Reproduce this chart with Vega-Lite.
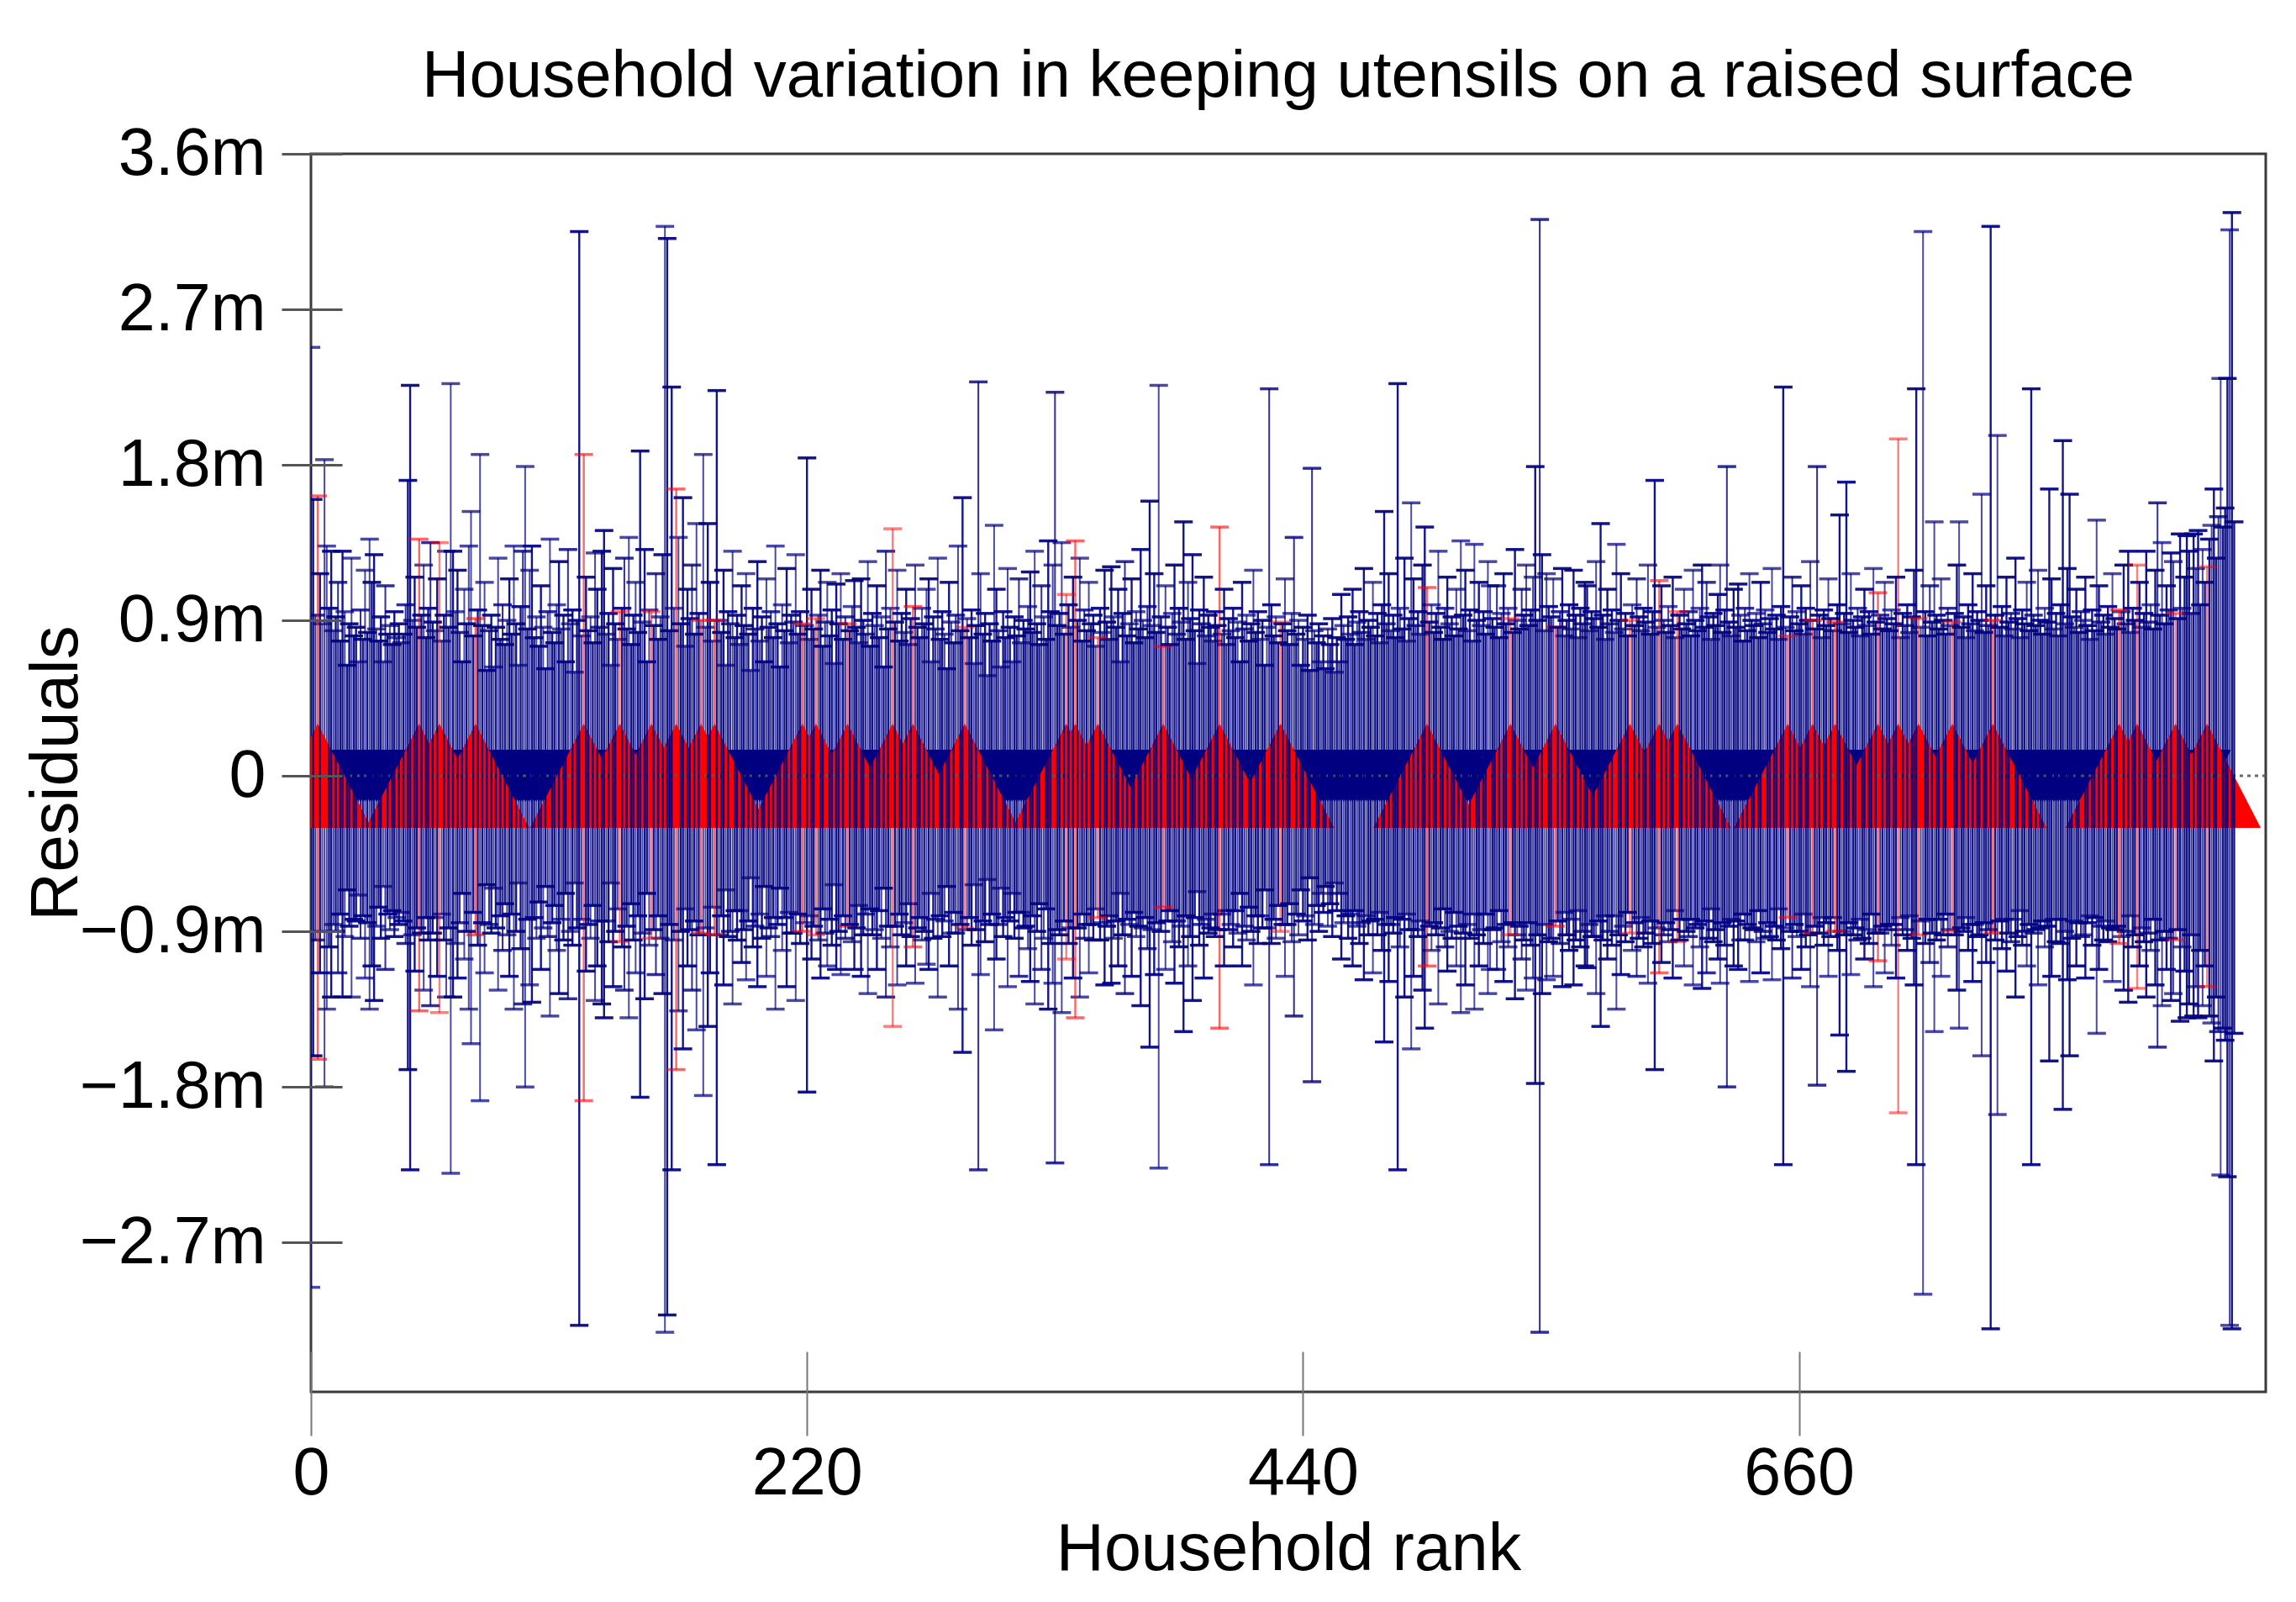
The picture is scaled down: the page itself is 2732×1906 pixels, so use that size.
{
  "$schema": "https://vega.github.io/schema/vega-lite/v6.json",
  "description": "Household residuals with error bars; red up-triangles and navy down-triangles mark each household.",
  "width": 2326,
  "height": 1473,
  "autosize": {"type": "none"},
  "padding": {"left": 370, "top": 183, "right": 36, "bottom": 250},
  "background": "white",
  "title": {
    "text": "Household variation in keeping utensils on a raised surface",
    "font": "Liberation Sans", "fontSize": 78, "fontWeight": "normal", "color": "#000",
    "anchor": "middle", "frame": "group", "baseline": "alphabetic", "offset": 23, "dy": 72, "dx": -12
  },
  "data": {"values": [
{"h":0,"hi":2.48,"lo":-2.96,"k":"l"},{"h":1,"hi":1.60,"lo":-1.62,"k":"n"},{"h":2,"hi":0.93,"lo":-0.95,"k":"m"},{"h":3,"hi":1.62,"lo":-1.64,"k":"r"},{"h":4,"hi":1.17,"lo":-1.14,"k":"n"},{"h":5,"hi":0.88,"lo":-0.90,"k":"l"},{"h":6,"hi":1.83,"lo":-1.80,"k":"l"},{"h":7,"hi":1.33,"lo":-1.35,"k":"l"},{"h":8,"hi":0.97,"lo":-0.99,"k":"n"},{"h":9,"hi":1.30,"lo":-1.28,"k":"n"},
{"h":10,"hi":0.84,"lo":-0.86,"k":"l"},{"h":11,"hi":0.92,"lo":-0.90,"k":"n"},{"h":12,"hi":1.12,"lo":-1.14,"k":"m"},{"h":13,"hi":0.78,"lo":-0.80,"k":"n"},{"h":14,"hi":1.30,"lo":-1.28,"k":"n"},{"h":15,"hi":0.95,"lo":-0.93,"k":"l"},{"h":16,"hi":0.64,"lo":-0.66,"k":"n"},{"h":17,"hi":0.88,"lo":-0.87,"k":"n"},{"h":18,"hi":1.26,"lo":-1.28,"k":"l"},{"h":19,"hi":0.81,"lo":-0.83,"k":"n"},
{"h":20,"hi":0.86,"lo":-0.84,"k":"n"},{"h":21,"hi":0.66,"lo":-0.69,"k":"l"},{"h":22,"hi":0.96,"lo":-0.94,"k":"m"},{"h":23,"hi":0.79,"lo":-0.81,"k":"n"},{"h":24,"hi":1.19,"lo":-1.17,"k":"l"},{"h":25,"hi":0.83,"lo":-0.85,"k":"n"},{"h":26,"hi":1.37,"lo":-1.35,"k":"l"},{"h":27,"hi":1.12,"lo":-1.10,"k":"n"},{"h":28,"hi":1.28,"lo":-1.30,"k":"n"},{"h":29,"hi":0.85,"lo":-0.87,"k":"l"},
{"h":30,"hi":0.78,"lo":-0.76,"k":"n"},{"h":31,"hi":0.92,"lo":-0.94,"k":"n"},{"h":32,"hi":0.66,"lo":-0.64,"k":"l"},{"h":33,"hi":1.10,"lo":-1.12,"k":"m"},{"h":34,"hi":0.82,"lo":-0.80,"k":"n"},{"h":35,"hi":0.87,"lo":-0.89,"k":"l"},{"h":36,"hi":0.76,"lo":-0.78,"k":"n"},{"h":37,"hi":0.95,"lo":-0.93,"k":"n"},{"h":38,"hi":0.80,"lo":-0.82,"k":"l"},{"h":39,"hi":0.88,"lo":-0.86,"k":"n"},
{"h":40,"hi":0.77,"lo":-0.79,"k":"l"},{"h":41,"hi":0.82,"lo":-0.84,"k":"n"},{"h":42,"hi":0.99,"lo":-0.97,"k":"m"},{"h":43,"hi":1.71,"lo":-1.70,"k":"n"},{"h":44,"hi":2.26,"lo":-2.28,"k":"n"},{"h":45,"hi":0.90,"lo":-0.92,"k":"l"},{"h":46,"hi":1.15,"lo":-1.13,"k":"n"},{"h":47,"hi":0.86,"lo":-0.88,"k":"n"},{"h":48,"hi":1.37,"lo":-1.36,"k":"r"},{"h":49,"hi":0.93,"lo":-0.91,"k":"n"},
{"h":50,"hi":1.22,"lo":-1.24,"k":"l"},{"h":51,"hi":0.80,"lo":-0.82,"k":"n"},{"h":52,"hi":0.97,"lo":-0.95,"k":"n"},{"h":53,"hi":1.35,"lo":-1.33,"k":"m"},{"h":54,"hi":0.89,"lo":-0.91,"k":"n"},{"h":55,"hi":0.84,"lo":-0.82,"k":"l"},{"h":56,"hi":1.14,"lo":-1.16,"k":"n"},{"h":57,"hi":1.35,"lo":-1.37,"k":"p"},{"h":58,"hi":0.78,"lo":-0.80,"k":"l"},{"h":59,"hi":0.93,"lo":-0.95,"k":"n"},
{"h":60,"hi":1.30,"lo":-1.28,"k":"l"},{"h":61,"hi":0.86,"lo":-0.88,"k":"n"},{"h":62,"hi":2.27,"lo":-2.30,"k":"l"},{"h":63,"hi":1.30,"lo":-1.28,"k":"n"},{"h":64,"hi":0.95,"lo":-0.97,"k":"l"},{"h":65,"hi":1.19,"lo":-1.17,"k":"n"},{"h":66,"hi":0.83,"lo":-0.85,"k":"m"},{"h":67,"hi":0.66,"lo":-0.68,"k":"n"},{"h":68,"hi":1.08,"lo":-1.06,"k":"l"},{"h":69,"hi":0.88,"lo":-0.90,"k":"n"},
{"h":70,"hi":1.33,"lo":-1.35,"k":"l"},{"h":71,"hi":1.53,"lo":-1.55,"k":"l"},{"h":72,"hi":0.81,"lo":-0.79,"k":"n"},{"h":73,"hi":0.91,"lo":-0.92,"k":"r"},{"h":74,"hi":0.96,"lo":-0.98,"k":"n"},{"h":75,"hi":1.86,"lo":-1.88,"k":"l"},{"h":76,"hi":0.87,"lo":-0.85,"k":"n"},{"h":77,"hi":1.12,"lo":-1.14,"k":"l"},{"h":78,"hi":0.61,"lo":-0.63,"k":"n"},{"h":79,"hi":0.84,"lo":-0.86,"k":"m"},
{"h":80,"hi":0.93,"lo":-0.91,"k":"n"},{"h":81,"hi":0.63,"lo":-0.65,"k":"l"},{"h":82,"hi":0.86,"lo":-0.88,"k":"n"},{"h":83,"hi":1.26,"lo":-1.24,"k":"l"},{"h":84,"hi":0.79,"lo":-0.81,"k":"n"},{"h":85,"hi":0.99,"lo":-1.01,"k":"m"},{"h":86,"hi":0.76,"lo":-0.74,"k":"n"},{"h":87,"hi":0.90,"lo":-0.92,"k":"l"},{"h":88,"hi":1.14,"lo":-1.16,"k":"n"},{"h":89,"hi":0.82,"lo":-0.80,"k":"n"},
{"h":90,"hi":1.33,"lo":-1.35,"k":"l"},{"h":91,"hi":0.88,"lo":-0.90,"k":"n"},{"h":92,"hi":0.64,"lo":-0.62,"k":"l"},{"h":93,"hi":0.98,"lo":-1.00,"k":"n"},{"h":94,"hi":1.30,"lo":-1.32,"k":"m"},{"h":95,"hi":1.79,"lo":-1.80,"k":"l"},{"h":96,"hi":0.85,"lo":-0.83,"k":"n"},{"h":97,"hi":1.19,"lo":-1.21,"k":"l"},{"h":98,"hi":1.33,"lo":-1.31,"k":"n"},{"h":99,"hi":0.80,"lo":-0.82,"k":"n"},
{"h":100,"hi":0.92,"lo":-0.94,"k":"l"},{"h":101,"hi":0.75,"lo":-0.73,"k":"n"},{"h":102,"hi":1.10,"lo":-1.12,"k":"n"},{"h":103,"hi":0.86,"lo":-0.88,"k":"l"},{"h":104,"hi":0.62,"lo":-0.64,"k":"n"},{"h":105,"hi":0.95,"lo":-0.93,"k":"m"},{"h":106,"hi":1.37,"lo":-1.39,"k":"l"},{"h":107,"hi":0.83,"lo":-0.85,"k":"n"},{"h":108,"hi":0.77,"lo":-0.75,"k":"n"},{"h":109,"hi":0.99,"lo":-1.01,"k":"l"},
{"h":110,"hi":1.24,"lo":-1.26,"k":"n"},{"h":111,"hi":0.85,"lo":-0.83,"k":"l"},{"h":112,"hi":0.93,"lo":-0.95,"k":"n"},{"h":113,"hi":0.66,"lo":-0.68,"k":"n"},{"h":114,"hi":1.31,"lo":-1.29,"k":"m"},{"h":115,"hi":0.88,"lo":-0.90,"k":"l"},{"h":116,"hi":0.96,"lo":-0.98,"k":"n"},{"h":117,"hi":0.60,"lo":-0.62,"k":"l"},{"h":118,"hi":0.90,"lo":-0.88,"k":"n"},{"h":119,"hi":3.15,"lo":-3.18,"k":"n"},
{"h":120,"hi":0.81,"lo":-0.83,"k":"l"},{"h":121,"hi":1.86,"lo":-1.88,"k":"r"},{"h":122,"hi":1.15,"lo":-1.13,"k":"n"},{"h":123,"hi":0.84,"lo":-0.86,"k":"n"},{"h":124,"hi":0.92,"lo":-0.94,"k":"l"},{"h":125,"hi":0.77,"lo":-0.75,"k":"n"},{"h":126,"hi":1.29,"lo":-1.30,"k":"l"},{"h":127,"hi":1.08,"lo":-1.10,"k":"n"},{"h":128,"hi":0.86,"lo":-0.84,"k":"m"},{"h":129,"hi":1.30,"lo":-1.32,"k":"n"},
{"h":130,"hi":1.42,"lo":-1.40,"k":"n"},{"h":131,"hi":0.82,"lo":-0.84,"k":"l"},{"h":132,"hi":0.94,"lo":-0.96,"k":"n"},{"h":133,"hi":0.64,"lo":-0.62,"k":"l"},{"h":134,"hi":1.20,"lo":-1.22,"k":"n"},{"h":135,"hi":0.88,"lo":-0.90,"k":"n"},{"h":136,"hi":0.79,"lo":-0.77,"k":"l"},{"h":137,"hi":0.95,"lo":-0.96,"k":"p"},{"h":138,"hi":0.97,"lo":-0.99,"k":"n"},{"h":139,"hi":1.26,"lo":-1.24,"k":"m"},
{"h":140,"hi":0.85,"lo":-0.87,"k":"n"},{"h":141,"hi":1.38,"lo":-1.40,"k":"l"},{"h":142,"hi":0.76,"lo":-0.74,"k":"n"},{"h":143,"hi":0.93,"lo":-0.95,"k":"n"},{"h":144,"hi":1.12,"lo":-1.14,"k":"l"},{"h":145,"hi":0.83,"lo":-0.81,"k":"n"},{"h":146,"hi":1.88,"lo":-1.86,"k":"n"},{"h":147,"hi":0.89,"lo":-0.91,"k":"l"},{"h":148,"hi":1.31,"lo":-1.29,"k":"n"},{"h":149,"hi":0.66,"lo":-0.68,"k":"n"},
{"h":150,"hi":0.96,"lo":-0.98,"k":"l"},{"h":151,"hi":0.95,"lo":-0.94,"k":"p"},{"h":152,"hi":0.87,"lo":-0.89,"k":"n"},{"h":153,"hi":1.17,"lo":-1.15,"k":"m"},{"h":154,"hi":0.79,"lo":-0.81,"k":"n"},{"h":155,"hi":0.92,"lo":-0.94,"k":"l"},{"h":156,"hi":1.28,"lo":-1.26,"k":"n"},{"h":157,"hi":3.18,"lo":-3.22,"k":"l"},{"h":158,"hi":3.11,"lo":-3.12,"k":"n"},{"h":159,"hi":0.84,"lo":-0.86,"k":"n"},
{"h":160,"hi":2.25,"lo":-2.28,"k":"n"},{"h":161,"hi":0.97,"lo":-0.95,"k":"l"},{"h":162,"hi":1.66,"lo":-1.70,"k":"r"},{"h":163,"hi":1.38,"lo":-1.36,"k":"l"},{"h":164,"hi":0.88,"lo":-0.90,"k":"n"},{"h":165,"hi":1.61,"lo":-1.58,"k":"n"},{"h":166,"hi":0.75,"lo":-0.77,"k":"l"},{"h":167,"hi":1.08,"lo":-1.10,"k":"n"},{"h":168,"hi":0.91,"lo":-0.89,"k":"n"},{"h":169,"hi":1.22,"lo":-1.24,"k":"m"},
{"h":170,"hi":0.82,"lo":-0.84,"k":"n"},{"h":171,"hi":1.46,"lo":-1.47,"k":"l"},{"h":172,"hi":0.94,"lo":-0.92,"k":"n"},{"h":173,"hi":0.90,"lo":-0.91,"k":"r"},{"h":174,"hi":1.86,"lo":-1.85,"k":"l"},{"h":175,"hi":0.86,"lo":-0.88,"k":"l"},{"h":176,"hi":1.46,"lo":-1.45,"k":"n"},{"h":177,"hi":1.12,"lo":-1.14,"k":"n"},{"h":178,"hi":0.78,"lo":-0.76,"k":"l"},{"h":179,"hi":0.90,"lo":-0.92,"k":"r"},
{"h":180,"hi":2.23,"lo":-2.25,"k":"n"},{"h":181,"hi":0.90,"lo":-0.92,"k":"l"},{"h":182,"hi":0.83,"lo":-0.81,"k":"n"},{"h":183,"hi":1.19,"lo":-1.21,"k":"n"},{"h":184,"hi":0.64,"lo":-0.66,"k":"l"},{"h":185,"hi":0.95,"lo":-0.93,"k":"n"},{"h":186,"hi":0.88,"lo":-0.90,"k":"m"},{"h":187,"hi":1.30,"lo":-1.32,"k":"l"},{"h":188,"hi":0.80,"lo":-0.78,"k":"n"},{"h":189,"hi":0.93,"lo":-0.95,"k":"n"},
{"h":190,"hi":0.76,"lo":-0.78,"k":"l"},{"h":191,"hi":1.10,"lo":-1.08,"k":"n"},{"h":192,"hi":0.87,"lo":-0.89,"k":"n"},{"h":193,"hi":1.17,"lo":-1.18,"k":"l"},{"h":194,"hi":0.82,"lo":-0.84,"k":"n"},{"h":195,"hi":0.61,"lo":-0.59,"k":"l"},{"h":196,"hi":0.97,"lo":-0.99,"k":"n"},{"h":197,"hi":0.85,"lo":-0.87,"k":"m"},{"h":198,"hi":1.24,"lo":-1.22,"k":"n"},{"h":199,"hi":0.78,"lo":-0.80,"k":"l"},
{"h":200,"hi":0.92,"lo":-0.94,"k":"n"},{"h":201,"hi":0.66,"lo":-0.64,"k":"n"},{"h":202,"hi":1.14,"lo":-1.16,"k":"l"},{"h":203,"hi":0.86,"lo":-0.88,"k":"n"},{"h":204,"hi":0.95,"lo":-0.93,"k":"m"},{"h":205,"hi":0.80,"lo":-0.82,"k":"n"},{"h":206,"hi":1.33,"lo":-1.35,"k":"l"},{"h":207,"hi":0.88,"lo":-0.86,"k":"n"},{"h":208,"hi":0.63,"lo":-0.65,"k":"n"},{"h":209,"hi":0.99,"lo":-1.01,"k":"l"},
{"h":210,"hi":0.84,"lo":-0.82,"k":"n"},{"h":211,"hi":1.20,"lo":-1.22,"k":"n"},{"h":212,"hi":0.77,"lo":-0.79,"k":"l"},{"h":213,"hi":0.93,"lo":-0.91,"k":"n"},{"h":214,"hi":0.89,"lo":-0.91,"k":"m"},{"h":215,"hi":1.28,"lo":-1.30,"k":"l"},{"h":216,"hi":0.82,"lo":-0.80,"k":"n"},{"h":217,"hi":0.95,"lo":-0.97,"k":"n"},{"h":218,"hi":0.88,"lo":-0.90,"k":"r"},{"h":219,"hi":0.87,"lo":-0.85,"k":"l"},
{"h":220,"hi":1.84,"lo":-1.83,"k":"n"},{"h":221,"hi":0.79,"lo":-0.81,"k":"l"},{"h":222,"hi":1.08,"lo":-1.06,"k":"n"},{"h":223,"hi":0.85,"lo":-0.87,"k":"n"},{"h":224,"hi":0.91,"lo":-0.92,"k":"p"},{"h":225,"hi":0.93,"lo":-0.95,"k":"l"},{"h":226,"hi":1.19,"lo":-1.17,"k":"n"},{"h":227,"hi":0.75,"lo":-0.77,"k":"n"},{"h":228,"hi":0.89,"lo":-0.91,"k":"m"},{"h":229,"hi":1.12,"lo":-1.10,"k":"l"},
{"h":230,"hi":0.81,"lo":-0.83,"k":"n"},{"h":231,"hi":0.96,"lo":-0.98,"k":"n"},{"h":232,"hi":0.65,"lo":-0.63,"k":"l"},{"h":233,"hi":1.11,"lo":-1.12,"k":"n"},{"h":234,"hi":0.88,"lo":-0.90,"k":"n"},{"h":235,"hi":1.17,"lo":-1.15,"k":"l"},{"h":236,"hi":0.79,"lo":-0.81,"k":"n"},{"h":237,"hi":0.92,"lo":-0.94,"k":"m"},{"h":238,"hi":0.88,"lo":-0.87,"k":"r"},{"h":239,"hi":0.84,"lo":-0.86,"k":"n"},
{"h":240,"hi":0.98,"lo":-0.96,"k":"l"},{"h":241,"hi":1.13,"lo":-1.12,"k":"n"},{"h":242,"hi":0.86,"lo":-0.88,"k":"n"},{"h":243,"hi":0.77,"lo":-0.75,"k":"l"},{"h":244,"hi":1.14,"lo":-1.16,"k":"n"},{"h":245,"hi":0.90,"lo":-0.92,"k":"n"},{"h":246,"hi":0.82,"lo":-0.80,"k":"m"},{"h":247,"hi":1.24,"lo":-1.26,"k":"l"},{"h":248,"hi":0.75,"lo":-0.77,"k":"n"},{"h":249,"hi":0.94,"lo":-0.92,"k":"n"},
{"h":250,"hi":0.87,"lo":-0.89,"k":"l"},{"h":251,"hi":1.10,"lo":-1.12,"k":"n"},{"h":252,"hi":0.80,"lo":-0.78,"k":"n"},{"h":253,"hi":0.92,"lo":-0.94,"k":"l"},{"h":254,"hi":0.63,"lo":-0.65,"k":"n"},{"h":255,"hi":1.30,"lo":-1.28,"k":"m"},{"h":256,"hi":0.85,"lo":-0.87,"k":"n"},{"h":257,"hi":0.97,"lo":-0.99,"k":"l"},{"h":258,"hi":1.43,"lo":-1.45,"k":"p"},{"h":259,"hi":0.89,"lo":-0.87,"k":"n"},
{"h":260,"hi":1.19,"lo":-1.21,"k":"l"},{"h":261,"hi":0.78,"lo":-0.80,"k":"n"},{"h":262,"hi":0.94,"lo":-0.92,"k":"n"},{"h":263,"hi":0.83,"lo":-0.85,"k":"l"},{"h":264,"hi":1.08,"lo":-1.10,"k":"n"},{"h":265,"hi":0.76,"lo":-0.74,"k":"m"},{"h":266,"hi":0.91,"lo":-0.93,"k":"n"},{"h":267,"hi":0.98,"lo":-0.99,"k":"r"},{"h":268,"hi":1.22,"lo":-1.20,"k":"l"},{"h":269,"hi":0.86,"lo":-0.88,"k":"n"},
{"h":270,"hi":0.80,"lo":-0.82,"k":"n"},{"h":271,"hi":0.97,"lo":-0.95,"k":"l"},{"h":272,"hi":0.88,"lo":-0.90,"k":"n"},{"h":273,"hi":1.08,"lo":-1.09,"k":"l"},{"h":274,"hi":1.14,"lo":-1.12,"k":"n"},{"h":275,"hi":0.66,"lo":-0.68,"k":"l"},{"h":276,"hi":0.92,"lo":-0.94,"k":"n"},{"h":277,"hi":0.85,"lo":-0.83,"k":"m"},{"h":278,"hi":1.26,"lo":-1.28,"k":"l"},{"h":279,"hi":0.79,"lo":-0.81,"k":"n"},
{"h":280,"hi":0.95,"lo":-0.93,"k":"n"},{"h":281,"hi":0.82,"lo":-0.84,"k":"l"},{"h":282,"hi":0.62,"lo":-0.64,"k":"n"},{"h":283,"hi":1.12,"lo":-1.10,"k":"n"},{"h":284,"hi":0.89,"lo":-0.91,"k":"l"},{"h":285,"hi":0.77,"lo":-0.79,"k":"n"},{"h":286,"hi":0.93,"lo":-0.91,"k":"m"},{"h":287,"hi":1.33,"lo":-1.35,"k":"l"},{"h":288,"hi":0.84,"lo":-0.86,"k":"n"},{"h":289,"hi":1.61,"lo":-1.60,"k":"n"},
{"h":290,"hi":0.86,"lo":-0.88,"k":"p"},{"h":291,"hi":0.91,"lo":-0.89,"k":"l"},{"h":292,"hi":0.80,"lo":-0.82,"k":"n"},{"h":293,"hi":0.96,"lo":-0.98,"k":"n"},{"h":294,"hi":0.65,"lo":-0.63,"k":"l"},{"h":295,"hi":0.87,"lo":-0.89,"k":"n"},{"h":296,"hi":2.28,"lo":-2.28,"k":"m"},{"h":297,"hi":1.17,"lo":-1.15,"k":"l"},{"h":298,"hi":0.82,"lo":-0.84,"k":"n"},{"h":299,"hi":0.94,"lo":-0.96,"k":"n"},
{"h":300,"hi":0.58,"lo":-0.60,"k":"l"},{"h":301,"hi":0.88,"lo":-0.86,"k":"n"},{"h":302,"hi":0.78,"lo":-0.80,"k":"n"},{"h":303,"hi":1.45,"lo":-1.47,"k":"l"},{"h":304,"hi":1.08,"lo":-1.06,"k":"n"},{"h":305,"hi":0.84,"lo":-0.86,"k":"m"},{"h":306,"hi":0.63,"lo":-0.65,"k":"l"},{"h":307,"hi":0.95,"lo":-0.93,"k":"n"},{"h":308,"hi":0.80,"lo":-0.82,"k":"n"},{"h":309,"hi":1.20,"lo":-1.22,"k":"l"},
{"h":310,"hi":0.86,"lo":-0.84,"k":"n"},{"h":311,"hi":0.66,"lo":-0.68,"k":"l"},{"h":312,"hi":0.92,"lo":-0.94,"k":"n"},{"h":313,"hi":0.81,"lo":-0.79,"k":"n"},{"h":314,"hi":1.14,"lo":-1.16,"k":"m"},{"h":315,"hi":0.77,"lo":-0.79,"k":"l"},{"h":316,"hi":0.90,"lo":-0.88,"k":"n"},{"h":317,"hi":0.85,"lo":-0.87,"k":"n"},{"h":318,"hi":0.98,"lo":-1.00,"k":"l"},{"h":319,"hi":1.18,"lo":-1.19,"k":"n"},
{"h":320,"hi":0.83,"lo":-0.81,"k":"n"},{"h":321,"hi":1.30,"lo":-1.32,"k":"l"},{"h":322,"hi":0.88,"lo":-0.90,"k":"n"},{"h":323,"hi":0.76,"lo":-0.74,"k":"n"},{"h":324,"hi":1.10,"lo":-1.12,"k":"m"},{"h":325,"hi":0.92,"lo":-0.94,"k":"l"},{"h":326,"hi":0.79,"lo":-0.77,"k":"n"},{"h":327,"hi":1.36,"lo":-1.35,"k":"n"},{"h":328,"hi":0.95,"lo":-0.97,"k":"n"},{"h":329,"hi":1.22,"lo":-1.20,"k":"l"},
{"h":330,"hi":2.22,"lo":-2.24,"k":"m"},{"h":331,"hi":0.87,"lo":-0.89,"k":"n"},{"h":332,"hi":0.94,"lo":-0.92,"k":"n"},{"h":333,"hi":1.35,"lo":-1.37,"k":"l"},{"h":334,"hi":0.82,"lo":-0.84,"k":"n"},{"h":335,"hi":1.05,"lo":-1.06,"k":"p"},{"h":336,"hi":0.99,"lo":-0.97,"k":"n"},{"h":337,"hi":0.86,"lo":-0.88,"k":"l"},{"h":338,"hi":1.15,"lo":-1.17,"k":"n"},{"h":339,"hi":1.36,"lo":-1.40,"k":"r"},
{"h":340,"hi":0.90,"lo":-0.88,"k":"n"},{"h":341,"hi":1.26,"lo":-1.28,"k":"l"},{"h":342,"hi":0.78,"lo":-0.80,"k":"n"},{"h":343,"hi":0.96,"lo":-0.94,"k":"m"},{"h":344,"hi":0.84,"lo":-0.86,"k":"n"},{"h":345,"hi":1.12,"lo":-1.14,"k":"l"},{"h":346,"hi":0.88,"lo":-0.86,"k":"n"},{"h":347,"hi":0.93,"lo":-0.95,"k":"n"},{"h":348,"hi":0.75,"lo":-0.77,"k":"l"},{"h":349,"hi":0.80,"lo":-0.82,"k":"p"},
{"h":350,"hi":0.97,"lo":-0.95,"k":"n"},{"h":351,"hi":0.83,"lo":-0.85,"k":"l"},{"h":352,"hi":1.19,"lo":-1.21,"k":"n"},{"h":353,"hi":0.89,"lo":-0.87,"k":"n"},{"h":354,"hi":0.79,"lo":-0.81,"k":"m"},{"h":355,"hi":1.21,"lo":-1.20,"k":"n"},{"h":356,"hi":0.92,"lo":-0.94,"k":"l"},{"h":357,"hi":0.86,"lo":-0.84,"k":"n"},{"h":358,"hi":1.08,"lo":-1.10,"k":"n"},{"h":359,"hi":0.66,"lo":-0.68,"k":"l"},
{"h":360,"hi":0.94,"lo":-0.92,"k":"n"},{"h":361,"hi":1.24,"lo":-1.26,"k":"m"},{"h":362,"hi":0.81,"lo":-0.83,"k":"n"},{"h":363,"hi":0.88,"lo":-0.86,"k":"l"},{"h":364,"hi":1.14,"lo":-1.16,"k":"n"},{"h":365,"hi":0.77,"lo":-0.79,"k":"n"},{"h":366,"hi":0.95,"lo":-0.93,"k":"l"},{"h":367,"hi":0.85,"lo":-0.87,"k":"n"},{"h":368,"hi":1.31,"lo":-1.33,"k":"n"},{"h":369,"hi":0.90,"lo":-0.88,"k":"l"},
{"h":370,"hi":0.80,"lo":-0.82,"k":"n"},{"h":371,"hi":0.98,"lo":-1.00,"k":"m"},{"h":372,"hi":1.59,"lo":-1.57,"k":"n"},{"h":373,"hi":0.87,"lo":-0.89,"k":"l"},{"h":374,"hi":1.17,"lo":-1.15,"k":"n"},{"h":375,"hi":0.83,"lo":-0.85,"k":"n"},{"h":376,"hi":2.26,"lo":-2.27,"k":"l"},{"h":377,"hi":0.92,"lo":-0.90,"k":"n"},{"h":378,"hi":0.75,"lo":-0.76,"k":"r"},{"h":379,"hi":1.10,"lo":-1.12,"k":"l"},
{"h":380,"hi":0.86,"lo":-0.84,"k":"n"},{"h":381,"hi":0.76,"lo":-0.78,"k":"n"},{"h":382,"hi":0.94,"lo":-0.96,"k":"l"},{"h":383,"hi":1.22,"lo":-1.20,"k":"n"},{"h":384,"hi":0.82,"lo":-0.84,"k":"m"},{"h":385,"hi":0.97,"lo":-0.99,"k":"n"},{"h":386,"hi":0.89,"lo":-0.87,"k":"l"},{"h":387,"hi":1.47,"lo":-1.48,"k":"n"},{"h":388,"hi":0.79,"lo":-0.81,"k":"n"},{"h":389,"hi":1.12,"lo":-1.10,"k":"l"},
{"h":390,"hi":0.91,"lo":-0.93,"k":"n"},{"h":391,"hi":1.28,"lo":-1.30,"k":"n"},{"h":392,"hi":0.84,"lo":-0.82,"k":"n"},{"h":393,"hi":0.65,"lo":-0.67,"k":"l"},{"h":394,"hi":0.96,"lo":-0.98,"k":"n"},{"h":395,"hi":0.88,"lo":-0.86,"k":"m"},{"h":396,"hi":1.15,"lo":-1.17,"k":"n"},{"h":397,"hi":0.81,"lo":-0.83,"k":"l"},{"h":398,"hi":0.93,"lo":-0.91,"k":"n"},{"h":399,"hi":0.86,"lo":-0.88,"k":"n"},
{"h":400,"hi":0.78,"lo":-0.80,"k":"l"},{"h":401,"hi":0.95,"lo":-0.93,"k":"n"},{"h":402,"hi":0.87,"lo":-0.89,"k":"n"},{"h":403,"hi":1.44,"lo":-1.46,"k":"r"},{"h":404,"hi":0.82,"lo":-0.80,"k":"l"},{"h":405,"hi":1.08,"lo":-1.10,"k":"n"},{"h":406,"hi":0.76,"lo":-0.78,"k":"m"},{"h":407,"hi":0.91,"lo":-0.89,"k":"n"},{"h":408,"hi":0.84,"lo":-0.86,"k":"l"},{"h":409,"hi":0.97,"lo":-0.99,"k":"n"},
{"h":410,"hi":0.80,"lo":-0.78,"k":"n"},{"h":411,"hi":0.89,"lo":-0.91,"k":"l"},{"h":412,"hi":0.66,"lo":-0.68,"k":"n"},{"h":413,"hi":1.12,"lo":-1.10,"k":"n"},{"h":414,"hi":0.85,"lo":-0.87,"k":"m"},{"h":415,"hi":0.93,"lo":-0.95,"k":"l"},{"h":416,"hi":0.78,"lo":-0.76,"k":"n"},{"h":417,"hi":0.88,"lo":-0.90,"k":"n"},{"h":418,"hi":1.19,"lo":-1.21,"k":"l"},{"h":419,"hi":0.83,"lo":-0.81,"k":"n"},
{"h":420,"hi":0.95,"lo":-0.97,"k":"n"},{"h":421,"hi":0.79,"lo":-0.81,"k":"l"},{"h":422,"hi":0.90,"lo":-0.88,"k":"n"},{"h":423,"hi":0.64,"lo":-0.66,"k":"n"},{"h":424,"hi":0.86,"lo":-0.88,"k":"l"},{"h":425,"hi":2.24,"lo":-2.25,"k":"m"},{"h":426,"hi":0.99,"lo":-0.97,"k":"n"},{"h":427,"hi":0.81,"lo":-0.83,"k":"n"},{"h":428,"hi":0.92,"lo":-0.94,"k":"l"},{"h":429,"hi":0.77,"lo":-0.75,"k":"n"},
{"h":430,"hi":0.89,"lo":-0.90,"k":"p"},{"h":431,"hi":0.88,"lo":-0.86,"k":"n"},{"h":432,"hi":1.14,"lo":-1.16,"k":"l"},{"h":433,"hi":0.84,"lo":-0.86,"k":"n"},{"h":434,"hi":0.76,"lo":-0.74,"k":"n"},{"h":435,"hi":0.94,"lo":-0.96,"k":"l"},{"h":436,"hi":1.38,"lo":-1.39,"k":"m"},{"h":437,"hi":0.82,"lo":-0.80,"k":"n"},{"h":438,"hi":0.90,"lo":-0.92,"k":"l"},{"h":439,"hi":0.64,"lo":-0.66,"k":"n"},
{"h":440,"hi":0.86,"lo":-0.84,"k":"n"},{"h":441,"hi":0.79,"lo":-0.81,"k":"l"},{"h":442,"hi":0.93,"lo":-0.95,"k":"n"},{"h":443,"hi":0.61,"lo":-0.59,"k":"n"},{"h":444,"hi":1.78,"lo":-1.77,"k":"m"},{"h":445,"hi":0.84,"lo":-0.86,"k":"l"},{"h":446,"hi":0.77,"lo":-0.75,"k":"n"},{"h":447,"hi":0.88,"lo":-0.90,"k":"n"},{"h":448,"hi":0.66,"lo":-0.68,"k":"l"},{"h":449,"hi":0.81,"lo":-0.79,"k":"n"},
{"h":450,"hi":0.62,"lo":-0.64,"k":"n"},{"h":451,"hi":0.85,"lo":-0.87,"k":"l"},{"h":452,"hi":0.76,"lo":-0.74,"k":"n"},{"h":453,"hi":0.91,"lo":-0.93,"k":"n"},{"h":454,"hi":0.60,"lo":-0.62,"k":"l"},{"h":455,"hi":0.80,"lo":-0.78,"k":"n"},{"h":456,"hi":0.66,"lo":-0.68,"k":"m"},{"h":457,"hi":1.05,"lo":-1.06,"k":"n"},{"h":458,"hi":0.87,"lo":-0.85,"k":"l"},{"h":459,"hi":0.79,"lo":-0.81,"k":"n"},
{"h":460,"hi":0.92,"lo":-0.94,"k":"n"},{"h":461,"hi":0.82,"lo":-0.80,"k":"l"},{"h":462,"hi":1.08,"lo":-1.10,"k":"n"},{"h":463,"hi":0.76,"lo":-0.78,"k":"n"},{"h":464,"hi":0.89,"lo":-0.87,"k":"l"},{"h":465,"hi":0.95,"lo":-0.97,"k":"n"},{"h":466,"hi":0.83,"lo":-0.85,"k":"m"},{"h":467,"hi":1.20,"lo":-1.18,"k":"n"},{"h":468,"hi":0.79,"lo":-0.81,"k":"l"},{"h":469,"hi":0.90,"lo":-0.92,"k":"n"},
{"h":470,"hi":0.86,"lo":-0.84,"k":"n"},{"h":471,"hi":1.12,"lo":-1.14,"k":"l"},{"h":472,"hi":0.81,"lo":-0.83,"k":"n"},{"h":473,"hi":0.94,"lo":-0.92,"k":"n"},{"h":474,"hi":0.77,"lo":-0.79,"k":"l"},{"h":475,"hi":0.99,"lo":-1.01,"k":"n"},{"h":476,"hi":1.53,"lo":-1.54,"k":"n"},{"h":477,"hi":0.88,"lo":-0.86,"k":"m"},{"h":478,"hi":1.17,"lo":-1.19,"k":"n"},{"h":479,"hi":0.84,"lo":-0.86,"k":"l"},
{"h":480,"hi":0.93,"lo":-0.91,"k":"n"},{"h":481,"hi":0.80,"lo":-0.82,"k":"n"},{"h":482,"hi":2.27,"lo":-2.28,"k":"n"},{"h":483,"hi":0.97,"lo":-0.99,"k":"l"},{"h":484,"hi":0.85,"lo":-0.83,"k":"n"},{"h":485,"hi":1.26,"lo":-1.28,"k":"n"},{"h":486,"hi":0.78,"lo":-0.80,"k":"l"},{"h":487,"hi":0.91,"lo":-0.89,"k":"n"},{"h":488,"hi":1.58,"lo":-1.58,"k":"l"},{"h":489,"hi":1.14,"lo":-1.16,"k":"n"},
{"h":490,"hi":0.87,"lo":-0.89,"k":"m"},{"h":491,"hi":0.95,"lo":-0.93,"k":"n"},{"h":492,"hi":0.82,"lo":-0.84,"k":"l"},{"h":493,"hi":1.22,"lo":-1.24,"k":"n"},{"h":494,"hi":1.44,"lo":-1.46,"k":"n"},{"h":495,"hi":1.09,"lo":-1.10,"k":"r"},{"h":496,"hi":0.89,"lo":-0.87,"k":"n"},{"h":497,"hi":0.99,"lo":-1.01,"k":"l"},{"h":498,"hi":0.83,"lo":-0.85,"k":"n"},{"h":499,"hi":0.94,"lo":-0.92,"k":"n"},
{"h":500,"hi":1.30,"lo":-1.32,"k":"l"},{"h":501,"hi":0.86,"lo":-0.88,"k":"n"},{"h":502,"hi":0.79,"lo":-0.77,"k":"n"},{"h":503,"hi":0.97,"lo":-0.99,"k":"m"},{"h":504,"hi":1.15,"lo":-1.13,"k":"n"},{"h":505,"hi":0.88,"lo":-0.90,"k":"l"},{"h":506,"hi":0.92,"lo":-0.94,"k":"n"},{"h":507,"hi":0.81,"lo":-0.79,"k":"n"},{"h":508,"hi":1.08,"lo":-1.10,"k":"l"},{"h":509,"hi":0.85,"lo":-0.87,"k":"n"},
{"h":510,"hi":1.36,"lo":-1.37,"k":"l"},{"h":511,"hi":0.93,"lo":-0.91,"k":"n"},{"h":512,"hi":1.19,"lo":-1.21,"k":"n"},{"h":513,"hi":0.84,"lo":-0.86,"k":"l"},{"h":514,"hi":0.96,"lo":-0.94,"k":"n"},{"h":515,"hi":0.78,"lo":-0.80,"k":"m"},{"h":516,"hi":1.34,"lo":-1.35,"k":"l"},{"h":517,"hi":0.90,"lo":-0.92,"k":"n"},{"h":518,"hi":1.12,"lo":-1.10,"k":"n"},{"h":519,"hi":0.87,"lo":-0.89,"k":"l"},
{"h":520,"hi":0.95,"lo":-0.97,"k":"n"},{"h":521,"hi":0.82,"lo":-0.80,"k":"n"},{"h":522,"hi":1.24,"lo":-1.26,"k":"l"},{"h":523,"hi":1.10,"lo":-1.12,"k":"l"},{"h":524,"hi":0.91,"lo":-0.89,"k":"n"},{"h":525,"hi":0.86,"lo":-0.88,"k":"n"},{"h":526,"hi":1.10,"lo":-1.12,"k":"m"},{"h":527,"hi":0.80,"lo":-0.78,"k":"n"},{"h":528,"hi":0.94,"lo":-0.96,"k":"l"},{"h":529,"hi":1.17,"lo":-1.19,"k":"n"},
{"h":530,"hi":0.88,"lo":-0.86,"k":"n"},{"h":531,"hi":0.97,"lo":-0.99,"k":"l"},{"h":532,"hi":0.91,"lo":-0.92,"k":"p"},{"h":533,"hi":0.83,"lo":-0.85,"k":"n"},{"h":534,"hi":1.31,"lo":-1.29,"k":"n"},{"h":535,"hi":0.90,"lo":-0.92,"k":"l"},{"h":536,"hi":0.85,"lo":-0.87,"k":"n"},{"h":537,"hi":1.08,"lo":-1.06,"k":"m"},{"h":538,"hi":0.93,"lo":-0.95,"k":"n"},{"h":539,"hi":1.22,"lo":-1.24,"k":"l"},
{"h":540,"hi":0.87,"lo":-0.85,"k":"n"},{"h":541,"hi":0.96,"lo":-0.98,"k":"n"},{"h":542,"hi":1.15,"lo":-1.17,"k":"l"},{"h":543,"hi":1.79,"lo":-1.78,"k":"n"},{"h":544,"hi":0.90,"lo":-0.92,"k":"n"},{"h":545,"hi":3.22,"lo":-3.22,"k":"m"},{"h":546,"hi":1.28,"lo":-1.26,"k":"n"},{"h":547,"hi":0.84,"lo":-0.86,"k":"l"},{"h":548,"hi":1.17,"lo":-1.18,"k":"l"},{"h":549,"hi":0.98,"lo":-0.96,"k":"n"},
{"h":550,"hi":0.92,"lo":-0.94,"k":"n"},{"h":551,"hi":1.14,"lo":-1.16,"k":"l"},{"h":552,"hi":0.86,"lo":-0.87,"k":"r"},{"h":553,"hi":0.86,"lo":-0.84,"k":"n"},{"h":554,"hi":0.95,"lo":-0.97,"k":"m"},{"h":555,"hi":1.20,"lo":-1.22,"k":"n"},{"h":556,"hi":0.81,"lo":-0.79,"k":"l"},{"h":557,"hi":0.90,"lo":-0.92,"k":"n"},{"h":558,"hi":0.99,"lo":-1.01,"k":"n"},{"h":559,"hi":0.85,"lo":-0.83,"k":"l"},
{"h":560,"hi":1.19,"lo":-1.21,"k":"n"},{"h":561,"hi":0.93,"lo":-0.95,"k":"n"},{"h":562,"hi":0.80,"lo":-0.78,"k":"l"},{"h":563,"hi":0.97,"lo":-0.99,"k":"n"},{"h":564,"hi":0.88,"lo":-0.90,"k":"m"},{"h":565,"hi":1.12,"lo":-1.10,"k":"n"},{"h":566,"hi":1.10,"lo":-1.11,"k":"n"},{"h":567,"hi":0.84,"lo":-0.86,"k":"l"},{"h":568,"hi":0.95,"lo":-0.93,"k":"n"},{"h":569,"hi":0.91,"lo":-0.93,"k":"n"},
{"h":570,"hi":1.24,"lo":-1.26,"k":"l"},{"h":571,"hi":0.86,"lo":-0.84,"k":"n"},{"h":572,"hi":1.46,"lo":-1.45,"k":"n"},{"h":573,"hi":0.93,"lo":-0.95,"k":"n"},{"h":574,"hi":0.79,"lo":-0.81,"k":"l"},{"h":575,"hi":1.08,"lo":-1.06,"k":"n"},{"h":576,"hi":0.88,"lo":-0.90,"k":"m"},{"h":577,"hi":0.96,"lo":-0.98,"k":"n"},{"h":578,"hi":0.83,"lo":-0.81,"k":"l"},{"h":579,"hi":1.34,"lo":-1.35,"k":"l"},
{"h":580,"hi":0.90,"lo":-0.92,"k":"n"},{"h":581,"hi":1.17,"lo":-1.15,"k":"n"},{"h":582,"hi":0.85,"lo":-0.87,"k":"l"},{"h":583,"hi":0.94,"lo":-0.96,"k":"n"},{"h":584,"hi":0.81,"lo":-0.79,"k":"n"},{"h":585,"hi":0.90,"lo":-0.91,"k":"p"},{"h":586,"hi":0.99,"lo":-1.01,"k":"l"},{"h":587,"hi":0.87,"lo":-0.85,"k":"n"},{"h":588,"hi":1.14,"lo":-1.16,"k":"m"},{"h":589,"hi":0.92,"lo":-0.94,"k":"n"},
{"h":590,"hi":0.84,"lo":-0.82,"k":"l"},{"h":591,"hi":0.97,"lo":-0.99,"k":"n"},{"h":592,"hi":0.89,"lo":-0.91,"k":"n"},{"h":593,"hi":1.22,"lo":-1.20,"k":"l"},{"h":594,"hi":0.82,"lo":-0.84,"k":"n"},{"h":595,"hi":0.95,"lo":-0.97,"k":"n"},{"h":596,"hi":1.71,"lo":-1.70,"k":"n"},{"h":597,"hi":0.86,"lo":-0.88,"k":"l"},{"h":598,"hi":1.13,"lo":-1.14,"k":"r"},{"h":599,"hi":1.10,"lo":-1.08,"k":"n"},
{"h":600,"hi":0.90,"lo":-0.92,"k":"m"},{"h":601,"hi":0.83,"lo":-0.85,"k":"n"},{"h":602,"hi":0.98,"lo":-0.96,"k":"l"},{"h":603,"hi":0.87,"lo":-0.89,"k":"n"},{"h":604,"hi":1.15,"lo":-1.17,"k":"n"},{"h":605,"hi":0.80,"lo":-0.78,"k":"l"},{"h":606,"hi":0.95,"lo":-0.96,"k":"p"},{"h":607,"hi":0.93,"lo":-0.95,"k":"n"},{"h":608,"hi":0.85,"lo":-0.83,"k":"n"},{"h":609,"hi":1.08,"lo":-1.10,"k":"l"},
{"h":610,"hi":0.88,"lo":-0.90,"k":"n"},{"h":611,"hi":0.95,"lo":-0.93,"k":"m"},{"h":612,"hi":0.81,"lo":-0.83,"k":"n"},{"h":613,"hi":1.19,"lo":-1.21,"k":"l"},{"h":614,"hi":0.90,"lo":-0.88,"k":"n"},{"h":615,"hi":0.84,"lo":-0.86,"k":"n"},{"h":616,"hi":0.97,"lo":-0.99,"k":"l"},{"h":617,"hi":1.22,"lo":-1.23,"k":"n"},{"h":618,"hi":0.86,"lo":-0.84,"k":"n"},{"h":619,"hi":1.12,"lo":-1.14,"k":"m"},
{"h":620,"hi":0.92,"lo":-0.94,"k":"n"},{"h":621,"hi":0.79,"lo":-0.77,"k":"l"},{"h":622,"hi":0.94,"lo":-0.96,"k":"n"},{"h":623,"hi":0.87,"lo":-0.89,"k":"n"},{"h":624,"hi":1.05,"lo":-1.06,"k":"n"},{"h":625,"hi":1.22,"lo":-1.20,"k":"l"},{"h":626,"hi":0.83,"lo":-0.85,"k":"n"},{"h":627,"hi":0.96,"lo":-0.98,"k":"n"},{"h":628,"hi":1.79,"lo":-1.80,"k":"m"},{"h":629,"hi":0.89,"lo":-0.87,"k":"n"},
{"h":630,"hi":0.81,"lo":-0.83,"k":"l"},{"h":631,"hi":1.08,"lo":-1.10,"k":"n"},{"h":632,"hi":0.86,"lo":-0.84,"k":"n"},{"h":633,"hi":1.11,"lo":-1.12,"k":"n"},{"h":634,"hi":0.93,"lo":-0.95,"k":"l"},{"h":635,"hi":0.78,"lo":-0.80,"k":"n"},{"h":636,"hi":0.97,"lo":-0.95,"k":"m"},{"h":637,"hi":0.84,"lo":-0.86,"k":"n"},{"h":638,"hi":1.17,"lo":-1.19,"k":"l"},{"h":639,"hi":0.90,"lo":-0.88,"k":"n"},
{"h":640,"hi":0.87,"lo":-0.89,"k":"n"},{"h":641,"hi":0.94,"lo":-0.96,"k":"l"},{"h":642,"hi":0.80,"lo":-0.78,"k":"n"},{"h":643,"hi":1.12,"lo":-1.14,"k":"n"},{"h":644,"hi":0.88,"lo":-0.90,"k":"m"},{"h":645,"hi":0.96,"lo":-0.94,"k":"l"},{"h":646,"hi":0.83,"lo":-0.85,"k":"n"},{"h":647,"hi":0.91,"lo":-0.93,"k":"n"},{"h":648,"hi":1.20,"lo":-1.18,"k":"l"},{"h":649,"hi":0.85,"lo":-0.87,"k":"n"},
{"h":650,"hi":0.93,"lo":-0.95,"k":"n"},{"h":651,"hi":0.79,"lo":-0.77,"k":"l"},{"h":652,"hi":0.98,"lo":-1.00,"k":"n"},{"h":653,"hi":2.25,"lo":-2.25,"k":"n"},{"h":654,"hi":0.86,"lo":-0.88,"k":"l"},{"h":655,"hi":0.81,"lo":-0.82,"k":"p"},{"h":656,"hi":0.92,"lo":-0.90,"k":"n"},{"h":657,"hi":1.15,"lo":-1.17,"k":"m"},{"h":658,"hi":0.84,"lo":-0.86,"k":"n"},{"h":659,"hi":0.95,"lo":-0.93,"k":"l"},
{"h":660,"hi":0.88,"lo":-0.90,"k":"n"},{"h":661,"hi":1.10,"lo":-1.12,"k":"n"},{"h":662,"hi":0.82,"lo":-0.80,"k":"l"},{"h":663,"hi":0.97,"lo":-0.99,"k":"n"},{"h":664,"hi":0.90,"lo":-0.92,"k":"n"},{"h":665,"hi":1.24,"lo":-1.22,"k":"l"},{"h":666,"hi":0.90,"lo":-0.91,"k":"r"},{"h":667,"hi":0.85,"lo":-0.87,"k":"n"},{"h":668,"hi":1.79,"lo":-1.79,"k":"m"},{"h":669,"hi":0.93,"lo":-0.91,"k":"n"},
{"h":670,"hi":0.80,"lo":-0.82,"k":"l"},{"h":671,"hi":0.96,"lo":-0.98,"k":"n"},{"h":672,"hi":0.87,"lo":-0.85,"k":"n"},{"h":673,"hi":1.14,"lo":-1.16,"k":"l"},{"h":674,"hi":0.91,"lo":-0.93,"k":"n"},{"h":675,"hi":0.84,"lo":-0.82,"k":"m"},{"h":676,"hi":0.89,"lo":-0.90,"k":"r"},{"h":677,"hi":0.99,"lo":-1.01,"k":"n"},{"h":678,"hi":1.51,"lo":-1.50,"k":"n"},{"h":679,"hi":0.88,"lo":-0.90,"k":"l"},
{"h":680,"hi":0.94,"lo":-0.92,"k":"n"},{"h":681,"hi":1.70,"lo":-1.71,"k":"n"},{"h":682,"hi":0.83,"lo":-0.85,"k":"n"},{"h":683,"hi":1.17,"lo":-1.15,"k":"l"},{"h":684,"hi":0.90,"lo":-0.92,"k":"n"},{"h":685,"hi":0.86,"lo":-0.88,"k":"n"},{"h":686,"hi":0.97,"lo":-0.95,"k":"m"},{"h":687,"hi":0.81,"lo":-0.83,"k":"l"},{"h":688,"hi":0.92,"lo":-0.94,"k":"n"},{"h":689,"hi":1.08,"lo":-1.06,"k":"n"},
{"h":690,"hi":0.87,"lo":-0.89,"k":"l"},{"h":691,"hi":0.95,"lo":-0.97,"k":"n"},{"h":692,"hi":0.82,"lo":-0.80,"k":"n"},{"h":693,"hi":1.20,"lo":-1.22,"k":"l"},{"h":694,"hi":0.89,"lo":-0.91,"k":"n"},{"h":695,"hi":1.06,"lo":-1.07,"k":"r"},{"h":696,"hi":0.93,"lo":-0.91,"k":"m"},{"h":697,"hi":0.85,"lo":-0.87,"k":"n"},{"h":698,"hi":1.12,"lo":-1.14,"k":"l"},{"h":699,"hi":0.91,"lo":-0.89,"k":"n"},
{"h":700,"hi":0.84,"lo":-0.86,"k":"n"},{"h":701,"hi":0.96,"lo":-0.98,"k":"l"},{"h":702,"hi":0.88,"lo":-0.86,"k":"n"},{"h":703,"hi":1.15,"lo":-1.17,"k":"n"},{"h":704,"hi":1.95,"lo":-1.95,"k":"p"},{"h":705,"hi":0.80,"lo":-0.82,"k":"l"},{"h":706,"hi":0.94,"lo":-0.92,"k":"n"},{"h":707,"hi":0.87,"lo":-0.89,"k":"m"},{"h":708,"hi":0.99,"lo":-1.01,"k":"n"},{"h":709,"hi":0.83,"lo":-0.81,"k":"l"},
{"h":710,"hi":0.92,"lo":-0.94,"k":"n"},{"h":711,"hi":1.19,"lo":-1.21,"k":"n"},{"h":712,"hi":2.24,"lo":-2.25,"k":"n"},{"h":713,"hi":0.91,"lo":-0.92,"k":"p"},{"h":714,"hi":0.86,"lo":-0.84,"k":"l"},{"h":715,"hi":3.15,"lo":-3.00,"k":"l"},{"h":716,"hi":0.95,"lo":-0.97,"k":"n"},{"h":717,"hi":0.81,"lo":-0.83,"k":"n"},{"h":718,"hi":1.10,"lo":-1.08,"k":"m"},{"h":719,"hi":0.89,"lo":-0.91,"k":"n"},
{"h":720,"hi":1.47,"lo":-1.48,"k":"l"},{"h":721,"hi":0.93,"lo":-0.95,"k":"n"},{"h":722,"hi":0.85,"lo":-0.83,"k":"n"},{"h":723,"hi":1.14,"lo":-1.16,"k":"l"},{"h":724,"hi":0.90,"lo":-0.92,"k":"n"},{"h":725,"hi":0.82,"lo":-0.80,"k":"n"},{"h":726,"hi":0.97,"lo":-0.99,"k":"m"},{"h":727,"hi":0.87,"lo":-0.89,"k":"l"},{"h":728,"hi":0.89,"lo":-0.90,"k":"p"},{"h":729,"hi":0.94,"lo":-0.92,"k":"n"},
{"h":730,"hi":1.22,"lo":-1.24,"k":"n"},{"h":731,"hi":1.47,"lo":-1.46,"k":"l"},{"h":732,"hi":0.86,"lo":-0.88,"k":"n"},{"h":733,"hi":0.92,"lo":-0.90,"k":"n"},{"h":734,"hi":0.80,"lo":-0.82,"k":"l"},{"h":735,"hi":0.99,"lo":-1.01,"k":"n"},{"h":736,"hi":0.88,"lo":-0.86,"k":"m"},{"h":737,"hi":1.17,"lo":-1.19,"k":"n"},{"h":738,"hi":0.84,"lo":-0.86,"k":"l"},{"h":739,"hi":0.95,"lo":-0.93,"k":"n"},
{"h":740,"hi":0.90,"lo":-0.92,"k":"n"},{"h":741,"hi":1.63,"lo":-1.62,"k":"l"},{"h":742,"hi":0.83,"lo":-0.85,"k":"n"},{"h":743,"hi":1.10,"lo":-1.08,"k":"n"},{"h":744,"hi":0.87,"lo":-0.89,"k":"m"},{"h":745,"hi":3.18,"lo":-3.20,"k":"n"},{"h":746,"hi":0.90,"lo":-0.91,"k":"r"},{"h":747,"hi":0.93,"lo":-0.95,"k":"n"},{"h":748,"hi":1.97,"lo":-1.96,"k":"l"},{"h":749,"hi":0.86,"lo":-0.84,"k":"n"},
{"h":750,"hi":0.98,"lo":-1.00,"k":"n"},{"h":751,"hi":0.81,"lo":-0.83,"k":"l"},{"h":752,"hi":1.15,"lo":-1.13,"k":"n"},{"h":753,"hi":0.89,"lo":-0.91,"k":"n"},{"h":754,"hi":0.94,"lo":-0.96,"k":"m"},{"h":755,"hi":0.85,"lo":-0.83,"k":"l"},{"h":756,"hi":1.26,"lo":-1.28,"k":"n"},{"h":757,"hi":0.91,"lo":-0.93,"k":"n"},{"h":758,"hi":0.80,"lo":-0.78,"k":"l"},{"h":759,"hi":0.96,"lo":-0.98,"k":"n"},
{"h":760,"hi":0.88,"lo":-0.90,"k":"n"},{"h":761,"hi":1.12,"lo":-1.10,"k":"l"},{"h":762,"hi":0.84,"lo":-0.86,"k":"n"},{"h":763,"hi":2.24,"lo":-2.25,"k":"n"},{"h":764,"hi":0.93,"lo":-0.91,"k":"m"},{"h":765,"hi":0.87,"lo":-0.89,"k":"n"},{"h":766,"hi":1.19,"lo":-1.21,"k":"l"},{"h":767,"hi":0.90,"lo":-0.88,"k":"n"},{"h":768,"hi":0.82,"lo":-0.84,"k":"n"},{"h":769,"hi":0.97,"lo":-0.99,"k":"l"},
{"h":770,"hi":0.89,"lo":-0.87,"k":"n"},{"h":771,"hi":1.66,"lo":-1.65,"k":"n"},{"h":772,"hi":1.14,"lo":-1.16,"k":"n"},{"h":773,"hi":0.85,"lo":-0.83,"k":"l"},{"h":774,"hi":0.94,"lo":-0.96,"k":"n"},{"h":775,"hi":0.81,"lo":-0.83,"k":"m"},{"h":776,"hi":0.99,"lo":-0.97,"k":"n"},{"h":777,"hi":1.94,"lo":-1.93,"k":"n"},{"h":778,"hi":0.88,"lo":-0.90,"k":"l"},{"h":779,"hi":1.20,"lo":-1.18,"k":"n"},
{"h":780,"hi":1.63,"lo":-1.62,"k":"n"},{"h":781,"hi":0.92,"lo":-0.94,"k":"n"},{"h":782,"hi":0.86,"lo":-0.84,"k":"l"},{"h":783,"hi":1.08,"lo":-1.10,"k":"n"},{"h":784,"hi":0.83,"lo":-0.85,"k":"n"},{"h":785,"hi":0.95,"lo":-0.93,"k":"m"},{"h":786,"hi":0.90,"lo":-0.92,"k":"l"},{"h":787,"hi":1.15,"lo":-1.17,"k":"n"},{"h":788,"hi":0.87,"lo":-0.85,"k":"n"},{"h":789,"hi":0.79,"lo":-0.81,"k":"l"},
{"h":790,"hi":0.96,"lo":-0.98,"k":"n"},{"h":791,"hi":0.84,"lo":-0.82,"k":"n"},{"h":792,"hi":1.48,"lo":-1.49,"k":"l"},{"h":793,"hi":1.10,"lo":-1.12,"k":"n"},{"h":794,"hi":0.89,"lo":-0.87,"k":"m"},{"h":795,"hi":0.93,"lo":-0.95,"k":"n"},{"h":796,"hi":0.82,"lo":-0.84,"k":"l"},{"h":797,"hi":0.98,"lo":-0.96,"k":"n"},{"h":798,"hi":0.86,"lo":-0.88,"k":"n"},{"h":799,"hi":1.17,"lo":-1.19,"k":"l"},
{"h":800,"hi":0.91,"lo":-0.89,"k":"n"},{"h":801,"hi":0.85,"lo":-0.87,"k":"n"},{"h":802,"hi":0.96,"lo":-0.97,"k":"r"},{"h":803,"hi":0.95,"lo":-0.93,"k":"l"},{"h":804,"hi":1.22,"lo":-1.24,"k":"n"},{"h":805,"hi":0.88,"lo":-0.90,"k":"m"},{"h":806,"hi":1.30,"lo":-1.31,"k":"n"},{"h":807,"hi":0.83,"lo":-0.81,"k":"l"},{"h":808,"hi":0.97,"lo":-0.99,"k":"n"},{"h":809,"hi":0.90,"lo":-0.92,"k":"n"},
{"h":810,"hi":1.22,"lo":-1.23,"k":"p"},{"h":811,"hi":1.12,"lo":-1.10,"k":"n"},{"h":812,"hi":0.86,"lo":-0.88,"k":"l"},{"h":813,"hi":0.94,"lo":-0.96,"k":"n"},{"h":814,"hi":1.30,"lo":-1.28,"k":"n"},{"h":815,"hi":0.89,"lo":-0.91,"k":"m"},{"h":816,"hi":0.99,"lo":-1.01,"k":"l"},{"h":817,"hi":0.85,"lo":-0.83,"k":"n"},{"h":818,"hi":1.19,"lo":-1.21,"k":"n"},{"h":819,"hi":1.58,"lo":-1.57,"k":"m"},
{"h":820,"hi":0.93,"lo":-0.95,"k":"n"},{"h":821,"hi":1.35,"lo":-1.33,"k":"l"},{"h":822,"hi":0.88,"lo":-0.90,"k":"n"},{"h":823,"hi":1.10,"lo":-1.12,"k":"n"},{"h":824,"hi":0.96,"lo":-0.94,"k":"m"},{"h":825,"hi":1.29,"lo":-1.30,"k":"n"},{"h":826,"hi":1.24,"lo":-1.26,"k":"l"},{"h":827,"hi":0.94,"lo":-0.95,"k":"p"},{"h":828,"hi":0.91,"lo":-0.89,"k":"n"},{"h":829,"hi":1.40,"lo":-1.42,"k":"n"},
{"h":830,"hi":0.97,"lo":-0.99,"k":"l"},{"h":831,"hi":1.15,"lo":-1.13,"k":"n"},{"h":832,"hi":1.39,"lo":-1.40,"k":"n"},{"h":833,"hi":1.30,"lo":-1.32,"k":"n"},{"h":834,"hi":0.94,"lo":-0.92,"k":"m"},{"h":835,"hi":1.40,"lo":-1.39,"k":"n"},{"h":836,"hi":1.20,"lo":-1.22,"k":"l"},{"h":837,"hi":1.42,"lo":-1.40,"k":"n"},{"h":838,"hi":0.99,"lo":-1.01,"k":"n"},{"h":839,"hi":1.31,"lo":-1.33,"k":"l"},
{"h":840,"hi":1.12,"lo":-1.10,"k":"n"},{"h":841,"hi":1.21,"lo":-1.22,"k":"p"},{"h":842,"hi":1.37,"lo":-1.39,"k":"n"},{"h":843,"hi":1.45,"lo":-1.43,"k":"l"},{"h":844,"hi":1.66,"lo":-1.65,"k":"n"},{"h":845,"hi":1.26,"lo":-1.28,"k":"n"},{"h":846,"hi":1.50,"lo":-1.48,"k":"m"},{"h":847,"hi":2.30,"lo":-2.31,"k":"l"},{"h":848,"hi":1.44,"lo":-1.46,"k":"n"},{"h":849,"hi":1.55,"lo":-1.53,"k":"n"},
{"h":850,"hi":2.30,"lo":-2.32,"k":"n"},{"h":851,"hi":3.16,"lo":-3.18,"k":"l"},{"h":852,"hi":3.26,"lo":-3.20,"k":"n"},{"h":853,"hi":1.47,"lo":-1.49,"k":"n"}
  ]},
  "layer": [
    {
      "transform": [{"filter": "(datum.k == 'n' || datum.k == 'm' || datum.k == 'l') && datum.h <= 840"}],
      "mark": {"type": "point", "shape": "M0,1L1,-1L-1,-1Z", "size": 3844, "filled": true, "color": "#000080", "opacity": 1, "strokeWidth": 0, "clip": true},
      "encoding": {
        "x": {"field": "h", "type": "quantitative", "scale": {"domain": [0, 867], "nice": false, "zero": false},
          "axis": {
            "title": "Household rank", "values": [0, 220, 440, 660], "format": "d",
            "labelFont": "Liberation Sans", "labelFontSize": 79, "labelColor": "#000", "labelPadding": 7, "labelFlush": false, "labelOverlap": false,
            "titleFont": "Liberation Sans", "titleFontSize": 79, "titleFontWeight": "normal", "titleColor": "#000", "titleY": 259, "titleBaseline": "alphabetic",
            "domain": false, "grid": false, "tickSize": 100, "tickColor": "#777", "tickWidth": 2, "offset": -48, "zindex": 1
          }
        },
        "y": {"datum": 0, "type": "quantitative", "scale": {"domain": [-3.565, 3.6], "nice": false, "zero": false},
          "axis": {
            "title": "Residuals", "values": [-2.7, -1.8, -0.9, 0, 0.9, 1.8, 2.7, 3.6],
            "labelExpr": "datum.value == 0 ? '0' : (datum.value < 0 ? '\u2212' : '') + format(abs(datum.value), '.1f') + 'm'",
            "labelFont": "Liberation Sans", "labelFontSize": 79, "labelColor": "#000", "labelPadding": 19, "labelFlush": false, "labelOverlap": false, "labelLimit": 500,
            "titleFont": "Liberation Sans", "titleFontSize": 80, "titleFontWeight": "normal", "titleColor": "#000", "titleX": -316, "titleBaseline": "alphabetic",
            "domain": false, "grid": false, "tickSize": 72, "tickColor": "#555", "tickWidth": 3, "offset": -37, "zindex": 1
          }
        }
      }
    },
    {
      "transform": [{"filter": "datum.k == 'm' || datum.k == 'l'"}],
      "encoding": {
        "x": {"field": "h", "type": "quantitative"},
        "color": {"field": "k", "type": "nominal", "scale": {"domain": ["n", "m", "l", "r", "p"], "range": ["#000080", "#000080", "#000080", "#ff0000", "#ff0000"]}, "legend": null},
        "opacity": {"field": "k", "type": "ordinal", "scale": {"domain": ["n", "m", "l", "r", "p"], "range": [0.92, 0.5, 0.22, 0.92, 0.42]}, "legend": null}
      },
      "layer": [
        {"mark": {"type": "rule", "strokeWidth": 2, "clip": true}, "encoding": {"y": {"field": "lo", "type": "quantitative"}, "y2": {"field": "hi"}}},
        {"mark": {"type": "tick", "orient": "horizontal", "size": 22, "thickness": 3.5, "clip": true}, "encoding": {"y": {"field": "hi", "type": "quantitative"}}},
        {"mark": {"type": "tick", "orient": "horizontal", "size": 22, "thickness": 3.5, "clip": true}, "encoding": {"y": {"field": "lo", "type": "quantitative"}}}
      ]
    },
    {
      "transform": [{"filter": "datum.k == 'r' || datum.k == 'p'"}],
      "mark": {"type": "point", "shape": "M0,-1L1.03,1L-1.03,1Z", "size": 15376, "filled": true, "color": "#ff0000", "opacity": 1, "strokeWidth": 0, "clip": true},
      "encoding": {
        "x": {"field": "h", "type": "quantitative"},
        "y": {"datum": 0, "type": "quantitative"}
      }
    },
    {
      "data": {"values": [{"ref": 0}]},
      "mark": {"type": "rule", "color": "#5a5a5a", "strokeWidth": 3, "strokeDash": [4, 5], "opacity": 0.9},
      "encoding": {"y": {"field": "ref", "type": "quantitative"}}
    },
    {
      "transform": [{"filter": "datum.k == 'n' || datum.k == 'r' || datum.k == 'p'"}],
      "encoding": {
        "x": {"field": "h", "type": "quantitative"},
        "color": {"field": "k", "type": "nominal", "legend": null},
        "opacity": {"field": "k", "type": "ordinal", "legend": null}
      },
      "layer": [
        {"mark": {"type": "rule", "strokeWidth": 2.4, "clip": true}, "encoding": {"y": {"field": "lo", "type": "quantitative"}, "y2": {"field": "hi"}}},
        {"mark": {"type": "tick", "orient": "horizontal", "size": 22, "thickness": 3.5, "clip": true}, "encoding": {"y": {"field": "hi", "type": "quantitative"}}},
        {"mark": {"type": "tick", "orient": "horizontal", "size": 22, "thickness": 3.5, "clip": true}, "encoding": {"y": {"field": "lo", "type": "quantitative"}}}
      ]
    }
  ],
  "config": {
    "view": {"stroke": "#3a3a3a", "strokeWidth": 3},
    "font": "Liberation Sans"
  }
}
